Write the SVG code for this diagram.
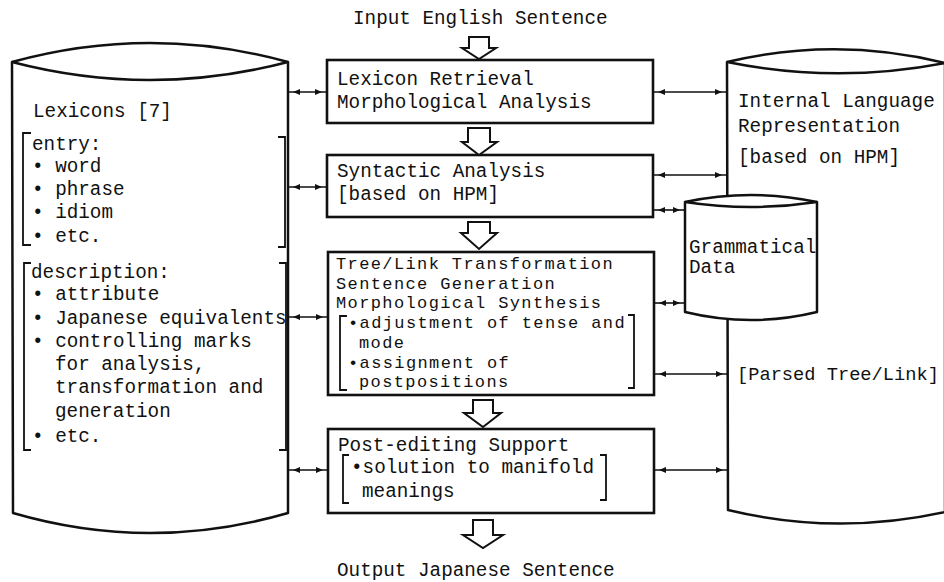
<svg xmlns="http://www.w3.org/2000/svg" width="944" height="582" viewBox="0 0 944 582">
<defs>
<style>
text{font-family:"Liberation Mono","DejaVu Sans Mono",monospace;font-size:19.3px;fill:#111}
text.t{font-size:17px;letter-spacing:1.38px}
.shape{fill:#fff;stroke:#111;stroke-width:2.5;stroke-linejoin:round}
.box{fill:#fff;stroke:#111;stroke-width:2.6}
.br{fill:none;stroke:#111;stroke-width:1.8}
.conn{fill:none;stroke:#111;stroke-width:1.6;marker-start:url(#ah);marker-end:url(#ah)}
.blk{fill:#fff;stroke:#111;stroke-width:2;stroke-linejoin:miter}
</style>
<marker id="ah" markerUnits="userSpaceOnUse" markerWidth="14" markerHeight="8" refX="12" refY="4" orient="auto-start-reverse" viewBox="0 0 14 8">
<path d="M0,1 L7,4 L0,7 Z" fill="#111"/>
</marker>
</defs>

<g id="title-in"><text x="353" y="24">Input English Sentence</text></g>
<g id="title-out"><text x="337" y="576">Output Japanese Sentence</text></g>

<g id="lexicons">
<path class="shape" d="M12,62 Q150,24 288,62 L288,513 Q150,553 13,513 Z"/>
<path class="shape" fill="none" d="M12,62 Q150,98 288,62"/>
<text x="33" y="117">Lexicons [7]</text>
<path class="br" d="M31,133 H23 V245 H31"/>
<path class="br" d="M278,137 H285 V247 H278"/>
<text x="32" y="150">entry:</text>
<text x="32" y="172">• word</text>
<text x="32" y="195">• phrase</text>
<text x="32" y="218">• idiom</text>
<text x="32" y="242">• etc.</text>
<path class="br" d="M31,263 H24 V450 H31"/>
<path class="br" d="M279,263 H286 V450 H279"/>
<text x="31" y="278">description:</text>
<text x="32" y="300">• attribute</text>
<text x="32" y="324">• Japanese equivalents</text>
<text x="32" y="347">• controlling marks</text>
<text x="55" y="370">for analysis,</text>
<text x="55" y="393">transformation and</text>
<text x="55" y="417">generation</text>
<text x="32" y="442">• etc.</text>
</g>

<g id="ilr">
<path class="shape" d="M727,62 Q836,36 945,63 L945,512 Q836,536 728,510 Z"/>
<path class="shape" fill="none" d="M727,62 Q836,84 945,63"/>
<text x="738" y="107">Internal Language</text>
<text x="738" y="132">Representation</text>
<text x="738" y="163">[based on HPM]</text>
<text x="737" y="380" style="font-size:18.7px">[Parsed Tree/Link]</text>
</g>

<g id="grammatical">
<path class="shape" d="M685,202 Q751,188 817,202 L817,312 Q751,328 685,312 Z"/>
<path class="shape" fill="none" d="M685,202 Q751,212 817,202"/>
<text x="689" y="253">Grammatical</text>
<text x="689" y="273">Data</text>
</g>

<g id="box1">
<rect class="box" x="327" y="60" width="326" height="63"/>
<text x="337" y="85">Lexicon Retrieval</text>
<text x="337" y="108">Morphological Analysis</text>
</g>

<g id="box2">
<rect class="box" x="327" y="155" width="326" height="62"/>
<text x="337" y="177">Syntactic Analysis</text>
<text x="337" y="200">[based on HPM]</text>
</g>

<g id="box3">
<rect class="box" x="328" y="252" width="326" height="143"/>
<text class="t" x="336" y="269">Tree/Link Transformation</text>
<text class="t" x="336" y="289">Sentence Generation</text>
<text class="t" x="336" y="308">Morphological Synthesis</text>
<path class="br" d="M347,316 H340 V390 H347"/>
<path class="br" d="M628,315 H634 V388 H628"/>
<text class="t" x="348" y="328">•adjustment of tense and</text>
<text class="t" x="359" y="348">mode</text>
<text class="t" x="348" y="368">•assignment of</text>
<text class="t" x="359" y="387">postpositions</text>
</g>

<g id="box4">
<rect class="box" x="328" y="429" width="326" height="84"/>
<text x="338" y="451">Post-editing Support</text>
<path class="br" d="M349,455 H343 V503 H349"/>
<path class="br" d="M600,455 H606 V500 H600"/>
<text x="351" y="473">•solution to manifold</text>
<text x="362" y="497">meanings</text>
</g>

<g id="flow-arrows">
<path class="blk" d="M469,37 H489 V48 H496 L479,59 L462,48 H469 Z"/>
<path class="blk" d="M468,128 H490 V142 H497 L479,155 L462,142 H468 Z"/>
<path class="blk" d="M468,222 H490 V233 H497 L479,249 L461,233 H468 Z"/>
<path class="blk" d="M473,400 H493 V413 H501 L483,427 L464,413 H473 Z"/>
<path class="blk" d="M473,520 H493 V535 H503 L483,548 L463,535 H473 Z"/>
</g>

<g id="connectors">
<line class="conn" x1="288" y1="92" x2="327" y2="92"/>
<line class="conn" x1="288" y1="187" x2="327" y2="187"/>
<line class="conn" x1="288" y1="317" x2="328" y2="317"/>
<line class="conn" x1="288" y1="470" x2="328" y2="470"/>
<line class="conn" x1="653" y1="92" x2="727" y2="92"/>
<line class="conn" x1="653" y1="175" x2="727" y2="175"/>
<line class="conn" x1="653" y1="210" x2="685" y2="210"/>
<line class="conn" x1="654" y1="303" x2="685" y2="303"/>
<line class="conn" x1="654" y1="374" x2="728" y2="374"/>
<line class="conn" x1="654" y1="470" x2="728" y2="470"/>
</g>
</svg>
